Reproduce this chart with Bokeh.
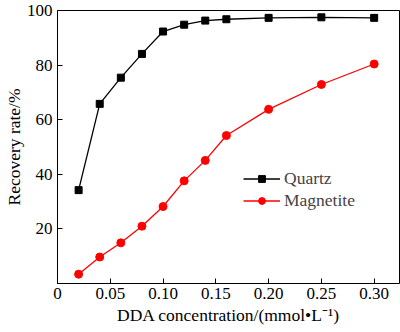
from bokeh.plotting import figure
from bokeh.models import FixedTicker, Range1d, Legend, LegendItem
from bokeh.embed import file_html
from bokeh.resources import INLINE

conc = [0.02, 0.04, 0.06, 0.08, 0.10, 0.12, 0.14, 0.16, 0.20, 0.25, 0.30]
quartz = [34.2, 65.8, 75.4, 84.1, 92.3, 94.8, 96.3, 96.8, 97.3, 97.5, 97.3]
magnetite = [3.4, 9.7, 14.9, 21.0, 28.2, 37.6, 45.1, 54.2, 63.8, 72.9, 80.4]

x_ticks = [0, 0.05, 0.10, 0.15, 0.20, 0.25, 0.30]
x_labels = ["0", "0.05", "0.10", "0.15", "0.20", "0.25", "0.30"]
y_ticks = [0, 20, 40, 60, 80, 100]
y_labels = ["", "20", "40", "60", "80", "100"]

FONT = "Liberation Serif"

p = figure(width=400, height=332, output_backend="svg", toolbar_location=None,
           x_range=Range1d(0, 0.324), y_range=Range1d(0, 100),
           min_border_left=55, min_border_right=1, min_border_top=10, min_border_bottom=49)
p.grid.visible = False
p.outline_line_color = "black"
p.outline_line_alpha = 1
p.outline_line_width = 1
p.background_fill_color = "white"
p.border_fill_color = "white"

for ax in (p.xaxis[0], p.yaxis[0]):
    ax.major_tick_in = 5
    ax.major_tick_out = 0
    ax.minor_tick_in = 0
    ax.minor_tick_out = 0
    ax.axis_line_color = "black"
    ax.major_tick_line_color = "black"
    ax.major_label_text_font = FONT
    ax.major_label_text_font_size = "17px"
    ax.major_label_text_color = "black"
    ax.axis_label_text_font = FONT
    ax.axis_label_text_font_size = "17.5px"
    ax.axis_label_text_font_style = "normal"
    ax.axis_label_text_color = "black"

p.xaxis.ticker = FixedTicker(ticks=x_ticks)
p.xaxis.major_label_overrides = {t: l for t, l in zip(x_ticks, x_labels)}
p.yaxis.ticker = FixedTicker(ticks=y_ticks)
p.yaxis.major_label_overrides = {t: l for t, l in zip(y_ticks, y_labels)}
p.xaxis.axis_label = "DDA concentration/(mmol\u2022L\u207b\u00b9)"
p.yaxis.axis_label = "Recovery rate/%"
p.xaxis.major_label_standoff = 4
p.yaxis.major_label_standoff = 5
p.xaxis.axis_label_standoff = 3
p.yaxis.axis_label_standoff = 0

q_line = p.line(conc, quartz, line_color="black", line_width=1.3)
q_mark = p.scatter(conc, quartz, marker="square", size=7, color="black")
m_line = p.line(conc, magnetite, line_color="red", line_width=1.3)
m_mark = p.scatter(conc, magnetite, marker="circle", size=8, color="red")

legend = Legend(items=[LegendItem(label="Quartz", renderers=[q_line, q_mark]),
                       LegendItem(label="Magnetite", renderers=[m_line, m_mark])],
                location=(186, 72), border_line_color=None, background_fill_alpha=0,
                label_text_font=FONT, label_text_font_size="17.5px",
                glyph_width=37, glyph_height=17, label_height=17,
                spacing=1, padding=0, margin=0, label_standoff=4)
p.add_layout(legend)

open("out.html", "w").write(file_html(p, INLINE))
